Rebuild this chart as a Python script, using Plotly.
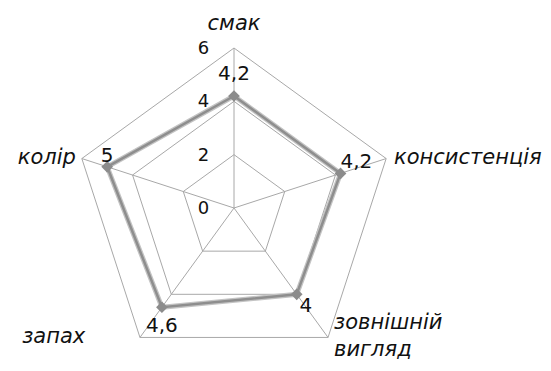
import plotly.graph_objects as go

categories = ["смак", "консистенція", "зовнішній<br>вигляд", "запах", "колір"]
values = [4.2, 4.2, 4.0, 4.6, 5.0]
value_labels = ["4,2", "4,2", "4", "4,6", "5"]
radial_ticks = [0, 2, 4, 6]
r_max = radial_ticks[-1]

W, H = 551, 371
cx, cy, R = 234, 208, 160

# label placement styles (not data)
value_label_pos = ["top center", "top right", "bottom right", "bottom center", "top center"]
value_label_pad = [16, 0, 3, 14, 0]
cat_label_pos = ["top center", "middle right", "middle right", "middle left", "middle left"]
cat_label_pad = [19, 11, 8, 86, 8]

fig = go.Figure()
# double-looking series line
fig.add_trace(go.Scatterpolar(
    r=values + values[:1], theta=categories + categories[:1], mode="lines",
    line=dict(color="#c4c4c4", width=5), hoverinfo="skip", showlegend=False,
))
fig.add_trace(go.Scatterpolar(
    r=values + values[:1], theta=categories + categories[:1], mode="lines",
    line=dict(color="#8e8e8e", width=2.5), hoverinfo="skip", showlegend=False,
))
# markers
fig.add_trace(go.Scatterpolar(
    r=values, theta=categories, mode="markers",
    marker=dict(symbol="diamond", size=9, color="#8c8c8c"),
    showlegend=False,
))
# value labels
fig.add_trace(go.Scatterpolar(
    r=values, theta=categories, mode="markers+text",
    marker=dict(size=value_label_pad, opacity=0),
    text=value_labels, textposition=value_label_pos,
    textfont=dict(family="DejaVu Sans", size=20, color="#111111"),
    hoverinfo="skip", showlegend=False, cliponaxis=False,
))
# category labels at the outer ring
fig.add_trace(go.Scatterpolar(
    r=[r_max] * len(categories), theta=categories, mode="markers+text",
    marker=dict(size=cat_label_pad, opacity=0),
    text=categories, textposition=cat_label_pos,
    textfont=dict(family="DejaVu Sans", size=21, color="#111111", style="italic"),
    hoverinfo="skip", showlegend=False, cliponaxis=False,
))

fig.update_layout(
    width=W, height=H,
    margin=dict(l=0, r=0, t=0, b=0),
    paper_bgcolor="white",
    plot_bgcolor="white",
    polar=dict(
        domain=dict(x=[(cx - R) / W, (cx + R) / W], y=[(H - cy - R) / H, (H - cy + R) / H]),
        bgcolor="white",
        gridshape="linear",
        radialaxis=dict(
            range=[0, r_max],
            tickvals=radial_ticks,
            ticktext=[str(v) for v in radial_ticks],
            angle=90,
            tickangle=90,
            showline=False,
            gridcolor="#a8a8a8",
            gridwidth=1,
            ticks="outside",
            ticklen=18,
            tickcolor="rgba(0,0,0,0)",
            tickfont=dict(family="DejaVu Sans", size=18, color="#111111"),
            side="counterclockwise",
        ),
        angularaxis=dict(
            rotation=90,
            direction="clockwise",
            linecolor="#a8a8a8",
            linewidth=1,
            gridcolor="#a8a8a8",
            gridwidth=1,
            showticklabels=False,
            ticks="",
        ),
    ),
)

fig.write_html("out.html", config={"displayModeBar": False},
               post_script="document.body.style.margin='0';")
